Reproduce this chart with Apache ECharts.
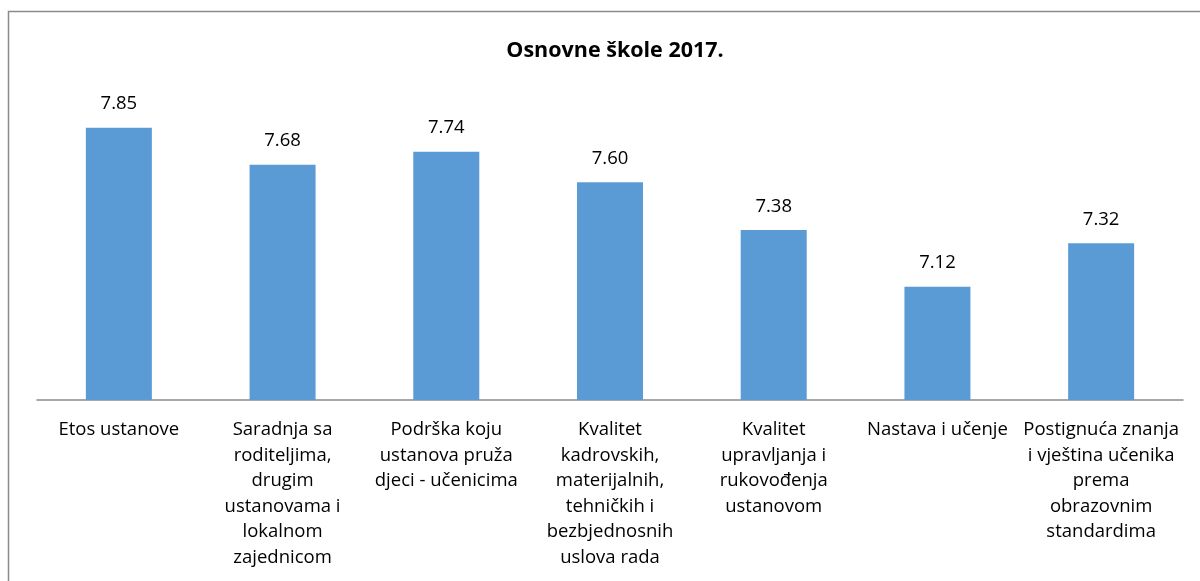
<!DOCTYPE html>
<html>
<head>
<meta charset="utf-8">
<script src="https://cdn.jsdelivr.net/npm/echarts@6/dist/echarts.min.js"></script>
<style>
html,body{margin:0;padding:0;background:#fff;}
#c{width:1200px;height:581px;}
</style>
</head>
<body>
<div id="c"></div>
<script>
const titleText = "Osnovne škole 2017.";
const categories = [
  "Etos ustanove",
  "Saradnja sa roditeljima, drugim ustanovama i lokalnom zajednicom",
  "Podrška koju ustanova pruža djeci - učenicima",
  "Kvalitet kadrovskih, materijalnih, tehničkih i bezbjednosnih uslova rada",
  "Kvalitet upravljanja i rukovođenja ustanovom",
  "Nastava i učenje",
  "Postignuća znanja i vještina učenika prema obrazovnim standardima"
];
const tickLabels = [
  "Etos ustanove",
  "Saradnja sa\nroditeljima,\ndrugim\nustanovama i\nlokalnom\nzajednicom",
  "Podrška koju\nustanova pruža\ndjeci - učenicima",
  "Kvalitet\nkadrovskih,\nmaterijalnih,\ntehničkih i\nbezbjednosnih\nuslova rada",
  "Kvalitet\nupravljanja i\nrukovođenja\nustanovom",
  "Nastava i učenje",
  "Postignuća znanja\ni vještina učenika\nprema\nobrazovnim\nstandardima"
];
const values = [7.85, 7.68, 7.74, 7.60, 7.38, 7.12, 7.32];

const chart = echarts.init(document.getElementById('c'), null, {renderer: 'canvas'});
const FONT = '"Open Sans", "DejaVu Sans", sans-serif';
chart.setOption({
  animation: false,
  backgroundColor: '#ffffff',
  graphic: [{
    type: 'rect',
    shape: {x: 8.5, y: 11.5, width: 1200, height: 600},
    style: {fill: 'none', stroke: '#8a8a8a', lineWidth: 1.5},
    silent: true
  }],
  title: {
    text: titleText,
    left: 610,
    top: 33,
    textAlign: 'center',
    textStyle: {fontFamily: FONT, fontWeight: 'bold', fontSize: 21.5, color: '#000', lineHeight: 26}
  },
  grid: {left: 37, right: 17, top: 95, bottom: 181, containLabel: false},
  xAxis: {
    type: 'category',
    data: categories,
    axisLine: {show: true, lineStyle: {color: '#8a8a8a', width: 1.5}},
    axisTick: {show: false},
    axisLabel: {
      interval: 0,
      margin: 17,
      fontFamily: FONT,
      fontSize: 18.5,
      lineHeight: 25.6,
      color: '#000',
      formatter: function (v, i) { return tickLabels[i]; }
    }
  },
  yAxis: {
    type: 'value',
    min: 6.6,
    max: 8.0,
    show: false,
    splitLine: {show: false}
  },
  series: [{
    type: 'bar',
    data: values,
    barWidth: 66,
    itemStyle: {color: '#5b9bd5'},
    label: {
      show: true,
      position: 'top',
      distance: 14,
      fontFamily: FONT,
      fontSize: 18.5,
      color: '#000',
      formatter: function (p) { return p.value.toFixed(2); }
    }
  }]
});
</script>
</body>
</html>
